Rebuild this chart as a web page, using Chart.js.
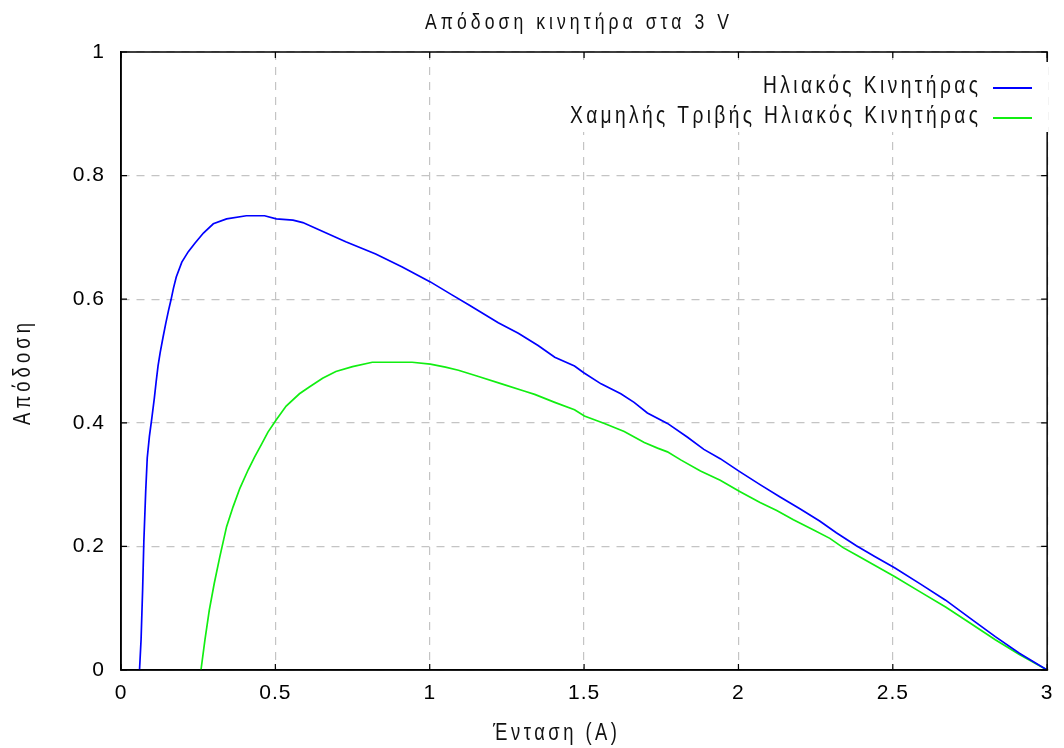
<!DOCTYPE html>
<html>
<head>
<meta charset="utf-8">
<script src="https://cdn.jsdelivr.net/npm/chart.js@4.4.1/dist/chart.umd.min.js"></script>
<style>
  html, body { margin: 0; padding: 0; background: #ffffff; }
  #wrap { width: 1064px; height: 748px; }
</style>
</head>
<body>
<div id="wrap"><canvas id="c" width="1064" height="748"></canvas></div>
<script>
// Labels
const titleText = 'Απόδοση κινητήρα στα 3 V';
const xTitleText = 'Ένταση (A)';
const yTitleText = 'Απόδοση';
const seriesNames = ['Ηλιακός Κινητήρας', 'Χαμηλής Τριβής Ηλιακός Κινητήρας'];

// Axis ticks
const xTicks = [0, 0.5, 1, 1.5, 2, 2.5, 3];
const yTicks = [0, 0.2, 0.4, 0.6, 0.8, 1];

// Solar motor: current (A) and efficiency
const solarCurrent = [0.060, 0.065, 0.070, 0.074, 0.080, 0.085, 0.092, 0.100, 0.108, 0.114,
  0.120, 0.127, 0.136, 0.145, 0.154, 0.162, 0.170, 0.179, 0.197, 0.218,
  0.240, 0.267, 0.299, 0.342, 0.406, 0.465, 0.503, 0.557, 0.589, 0.643,
  0.728, 0.825, 0.911, 1.002, 1.072, 1.126, 1.222, 1.287, 1.351, 1.405,
  1.469, 1.499, 1.555, 1.619, 1.662, 1.705, 1.770, 1.834, 1.888, 1.941,
  2.004, 2.070, 2.135, 2.199, 2.263, 2.317, 2.382, 2.440, 2.507, 2.590,
  2.671, 2.750, 2.832, 2.910, 3.000];
const solarEff = [0.000, 0.049, 0.129, 0.208, 0.289, 0.343, 0.378, 0.408, 0.440, 0.467,
  0.492, 0.514, 0.538, 0.561, 0.582, 0.599, 0.618, 0.636, 0.660, 0.677,
  0.691, 0.707, 0.722, 0.730, 0.735, 0.735, 0.730, 0.728, 0.724, 0.712,
  0.693, 0.673, 0.652, 0.628, 0.607, 0.591, 0.562, 0.545, 0.525, 0.506,
  0.492, 0.481, 0.463, 0.447, 0.433, 0.416, 0.399, 0.377, 0.357, 0.342,
  0.321, 0.300, 0.280, 0.261, 0.241, 0.222, 0.201, 0.184, 0.165, 0.139,
  0.113, 0.084, 0.054, 0.027, 0.000];

// Low-friction solar motor: current (A) and efficiency
const lowFrictionCurrent = [0.259, 0.272, 0.286, 0.302, 0.320, 0.342, 0.363, 0.385, 0.412, 0.433,
  0.455, 0.476, 0.503, 0.535, 0.578, 0.610, 0.653, 0.696, 0.750, 0.814,
  0.943, 1.002, 1.051, 1.093, 1.158, 1.233, 1.308, 1.340, 1.405, 1.469,
  1.501, 1.566, 1.630, 1.695, 1.738, 1.770, 1.813, 1.877, 1.941, 2.004,
  2.070, 2.124, 2.178, 2.242, 2.296, 2.339, 2.382, 2.507, 2.590, 2.671,
  2.750, 2.832, 2.910, 3.000];
const lowFrictionEff = [0.000, 0.049, 0.097, 0.140, 0.183, 0.232, 0.264, 0.294, 0.324, 0.345,
  0.365, 0.385, 0.405, 0.427, 0.447, 0.458, 0.472, 0.483, 0.491, 0.498,
  0.498, 0.495, 0.490, 0.485, 0.475, 0.463, 0.451, 0.446, 0.433, 0.421,
  0.411, 0.399, 0.386, 0.368, 0.359, 0.353, 0.340, 0.322, 0.307, 0.289,
  0.271, 0.258, 0.243, 0.227, 0.213, 0.198, 0.186, 0.151, 0.126, 0.102,
  0.076, 0.049, 0.025, 0.000];

const seriesColors = ['#0000ff', '#11ee11'];

const FONT = '"Liberation Sans", "DejaVu Sans", sans-serif';

function toPoints(xs, ys) { return xs.map((x, i) => ({ x: x, y: ys[i] })); }

// Draws narrow, letter-spaced text spanning the given width
function spacedText(ctx, text, x, y, width, size, align) {
  const sx = 0.8;
  ctx.save();
  ctx.font = size + 'px ' + FONT;
  ctx.letterSpacing = '0px';
  const natural = ctx.measureText(text).width * sx;
  const sp = Math.max(0, (width - natural) / Math.max(1, text.length - 1));
  ctx.letterSpacing = (sp / sx) + 'px';
  ctx.fillStyle = '#111';
  ctx.textBaseline = 'middle';
  ctx.textAlign = 'left';
  let left = x;
  if (align === 'center') left = x - width / 2;
  else if (align === 'right') left = x - width;
  ctx.translate(left, y);
  ctx.scale(sx, 1);
  ctx.fillText(text, 0, 0);
  ctx.restore();
}

const framePlugin = {
  id: 'frameTicksText',
  beforeDraw(chart) {
    chart.ctx.letterSpacing = '1px';
  },
  afterDatasetsDraw(chart) {
    const ctx = chart.ctx;
    const a = chart.chartArea;
    const xs = chart.scales.x, ys = chart.scales.y;
    ctx.save();
    ctx.letterSpacing = '0px';
    ctx.strokeStyle = '#000';
    ctx.lineWidth = 1.5;
    ctx.setLineDash([]);
    ctx.strokeRect(a.left, a.top, a.right - a.left, a.bottom - a.top);
    ctx.lineWidth = 1.2;
    const tl = 6;
    ctx.beginPath();
    xs.ticks.forEach(t => {
      const px = xs.getPixelForValue(t.value);
      ctx.moveTo(px, a.bottom); ctx.lineTo(px, a.bottom - tl);
      ctx.moveTo(px, a.top); ctx.lineTo(px, a.top + tl);
    });
    ys.ticks.forEach(t => {
      const py = ys.getPixelForValue(t.value);
      ctx.moveTo(a.left, py); ctx.lineTo(a.left + tl, py);
      ctx.moveTo(a.right, py); ctx.lineTo(a.right - tl, py);
    });
    ctx.stroke();

    // legend (inside the plot, top right)
    ctx.fillStyle = '#fff';
    ctx.fillRect(560, 62, 488, 70);
    const rows = [{ y: 86, w: 215 }, { y: 116, w: 408 }];
    chart.data.datasets.forEach((ds, i) => {
      spacedText(ctx, ds.label, 978, rows[i].y, rows[i].w, 24, 'right');
      ctx.strokeStyle = ds.borderColor;
      ctx.lineWidth = 2;
      ctx.beginPath();
      ctx.moveTo(993, rows[i].y + 2);
      ctx.lineTo(1032, rows[i].y + 2);
      ctx.stroke();
    });
    ctx.restore();
  },
  afterDraw(chart) {
    const ctx = chart.ctx;
    spacedText(ctx, titleText, 577, 23, 304, 22, 'center');
    spacedText(ctx, xTitleText, 555, 734, 124, 23, 'center');
    ctx.save();
    ctx.translate(24, 374);
    ctx.rotate(-Math.PI / 2);
    spacedText(ctx, yTitleText, 0, 0, 102, 23, 'center');
    ctx.restore();
  }
};

new Chart(document.getElementById('c'), {
  type: 'line',
  data: {
    datasets: [
      { label: seriesNames[0], data: toPoints(solarCurrent, solarEff), borderColor: seriesColors[0],
        borderWidth: 1.7, pointRadius: 0, tension: 0, fill: false },
      { label: seriesNames[1], data: toPoints(lowFrictionCurrent, lowFrictionEff), borderColor: seriesColors[1],
        borderWidth: 1.7, pointRadius: 0, tension: 0, fill: false }
    ]
  },
  options: {
    responsive: false,
    animation: false,
    devicePixelRatio: 1,
    layout: { padding: { left: 0, top: 52, right: 12, bottom: 0 } },
    plugins: { legend: { display: false }, title: { display: false }, tooltip: { enabled: false } },
    scales: {
      x: {
        type: 'linear', min: 0, max: 3,
        afterBuildTicks: s => { s.ticks = xTicks.map(v => ({ value: v })); },
        afterFit: s => { s.height = 78; },
        ticks: { color: '#000', font: { family: FONT, size: 21 }, padding: 11, maxRotation: 0,
          callback: v => String(v) },
        grid: { color: '#c4c4c4', lineWidth: 1.2, drawTicks: false },
        border: { display: true, color: '#000', width: 1.5, dash: [8, 7] }
      },
      y: {
        type: 'linear', min: 0, max: 1,
        afterBuildTicks: s => { s.ticks = yTicks.map(v => ({ value: v })); },
        afterFit: s => { s.width = 121; },
        ticks: { color: '#000', font: { family: FONT, size: 21 }, padding: 16,
          callback: v => String(v) },
        grid: { color: '#c4c4c4', lineWidth: 1.2, drawTicks: false },
        border: { display: true, color: '#000', width: 1.5, dash: [8, 7] }
      }
    }
  },
  plugins: [framePlugin]
});
</script>
</body>
</html>
